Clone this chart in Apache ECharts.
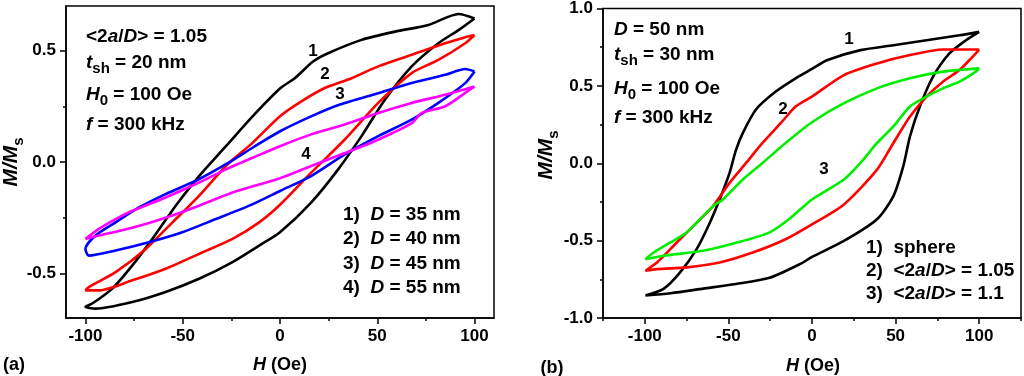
<!DOCTYPE html>
<html>
<head>
<meta charset="utf-8">
<script src="https://cdn.jsdelivr.net/npm/echarts@6/dist/echarts.min.js"></script>
<style>
  html, body { margin: 0; padding: 0; background: #fff; }
  #chart { width: 1024px; height: 376px; }
</style>
</head>
<body>
<div id="chart"></div>
<script>
// panel (a): loops start at +100 Oe, run the upper branch down to -100, then back along the lower branch
const loopA1 = [[100,0.644],[91.8,0.664],[76.3,0.615],[59.1,0.585],[41.9,0.548],[24.7,0.488],[17,0.451],[7.6,0.376],[0,0.33],[-14.1,0.205],[-27.8,0.071],[-41.6,-0.063],[-53.6,-0.196],[-65.6,-0.345],[-75.9,-0.464],[-86.2,-0.568],[-96.5,-0.635],[-100,-0.65],[-94.8,-0.658],[-75.9,-0.628],[-58.8,-0.583],[-41.6,-0.524],[-24.4,-0.449],[-10.7,-0.375],[0,-0.315],[16,-0.182],[29.9,-0.033],[41.9,0.116],[54,0.28],[67.7,0.429],[81.4,0.533],[91.8,0.592],[100,0.644]];
const loopA2 = [[100,0.57],[95.2,0.56],[84.9,0.533],[67.7,0.481],[50.5,0.429],[36.8,0.376],[23,0.332],[11,0.272],[0,0.205],[-14.1,0.086],[-27.8,-0.018],[-41.6,-0.152],[-55.3,-0.271],[-69,-0.39],[-84.5,-0.494],[-98.3,-0.561],[-100,-0.576],[-93.1,-0.576],[-75.9,-0.531],[-58.8,-0.479],[-41.6,-0.412],[-24.4,-0.345],[-10.7,-0.271],[0,-0.192],[16,-0.048],[33.3,0.101],[50.5,0.265],[67.7,0.399],[81.4,0.458],[95.2,0.533],[100,0.57]];
const loopA3 = [[100,0.406],[95.2,0.417],[84.9,0.391],[67.7,0.354],[50.5,0.309],[30.8,0.258],[16,0.205],[0,0.138],[-14.1,0.064],[-27.8,-0.01],[-41.6,-0.077],[-58.8,-0.144],[-72.5,-0.204],[-84.5,-0.271],[-94.8,-0.33],[-100,-0.39],[-98.3,-0.42],[-84.5,-0.397],[-67.4,-0.36],[-50.2,-0.315],[-33,-0.256],[-15.8,-0.196],[0,-0.13],[16,-0.063],[33.3,0.034],[50.5,0.116],[67.7,0.19],[81.4,0.265],[95.2,0.354],[100,0.406]];
const loopA4 = [[100,0.339],[84.9,0.302],[67.7,0.265],[50.5,0.22],[33.3,0.168],[16,0.124],[0,0.071],[-14.1,0.019],[-27.8,-0.033],[-41.6,-0.092],[-58.8,-0.159],[-75.9,-0.219],[-84.5,-0.256],[-93.1,-0.3],[-100,-0.345],[-93.1,-0.33],[-75.9,-0.295],[-58.8,-0.25],[-41.6,-0.196],[-24.4,-0.137],[0,-0.073],[16,-0.018],[33.3,0.04],[50.5,0.1],[67.7,0.174],[72.7,0.219],[84.9,0.25],[95.2,0.31],[100,0.339]];

// panel (b)
const loopB1 = [[100,0.849],[88.2,0.827],[68.5,0.795],[48.7,0.763],[29,0.731],[9.3,0.667],[0,0.61],[-9.8,0.549],[-21.7,0.463],[-33.5,0.347],[-41.4,0.195],[-45.4,0.088],[-49.3,-0.062],[-55.2,-0.233],[-61.1,-0.384],[-69,-0.555],[-78.9,-0.705],[-88.8,-0.812],[-99.6,-0.855],[-84.6,-0.84],[-65,-0.81],[-45.5,-0.78],[-25.4,-0.74],[-6,-0.645],[0,-0.605],[19.1,-0.502],[38.9,-0.362],[48.7,-0.212],[54.6,-0.019],[58.6,0.174],[64.5,0.367],[72.4,0.56],[82.2,0.71],[92.1,0.795],[100,0.849]];
const loopB2 = [[100,0.735],[78.3,0.735],[58.6,0.699],[38.9,0.645],[19.1,0.57],[0,0.431],[-9.8,0.367],[-17.8,0.27],[-29.6,0.131],[-39.4,0.002],[-49.3,-0.127],[-59.2,-0.277],[-69,-0.384],[-80.9,-0.512],[-92.7,-0.641],[-99.6,-0.695],[-92.7,-0.684],[-75,-0.673],[-55.2,-0.641],[-35.5,-0.577],[-15.8,-0.491],[0,-0.395],[19.1,-0.266],[38.9,-0.041],[48.7,0.131],[58.6,0.302],[68.5,0.431],[78.3,0.527],[88.2,0.602],[96,0.688],[100,0.735]];
const loopB3 = [[100,0.613],[78.3,0.592],[58.6,0.549],[38.9,0.484],[19.1,0.388],[0,0.265],[-15.8,0.131],[-29.6,0.002],[-41.4,-0.105],[-53.3,-0.234],[-59.2,-0.277],[-75,-0.448],[-84.8,-0.512],[-94.7,-0.577],[-99.6,-0.62],[-88.8,-0.598],[-65.1,-0.566],[-45.4,-0.514],[-25.6,-0.448],[-13.8,-0.362],[0,-0.234],[19.1,-0.105],[29,0.002],[38.9,0.131],[48.7,0.238],[58.6,0.367],[68.5,0.431],[78.3,0.484],[88.2,0.527],[98,0.592],[100,0.613]];

// ticks
const hTicksA = [-100, -50, 0, 50, 100];
const hMinorA = [-75, -25, 25, 75];
const mTicksA = [-0.5, 0, 0.5];
const mMinorA = [-0.25, 0.25];
const hTicksB = [-100, -50, 0, 50, 100];
const hMinorB = [-125, -75, -25, 25, 75, 125];
const mTicksB = [-1, -0.5, 0, 0.5, 1];
const mMinorB = [-0.75, -0.25, 0.25, 0.75];

const legendA = ['1)  {i|D} = 35 nm', '2)  {i|D} = 40 nm', '3)  {i|D} = 45 nm', '4)  {i|D} = 55 nm'];
const legendB = ['1)  sphere', '2)  <2{i|a}/{i|D}> = 1.05', '3)  <2{i|a}/{i|D}> = 1.1'];
const paramsA = ['<2{i|a}/{i|D}> = 1.05', '{i|t}{sub|sh} = 20 nm', '{i|H}{sub|0} = 100 Oe', '{i|f} = 300 kHz'];
const paramsB = ['{i|D} = 50 nm', '{i|t}{sub|sh} = 30 nm', '{i|H}{sub|0} = 100 Oe', '{i|f} = 300 kHz'];

const FONT = '"Liberation Sans", Arial, sans-serif';
const RICH = {
  i: { fontStyle: 'italic', fontWeight: 'bold', fontSize: 19, fontFamily: FONT },
  sub: { fontWeight: 'bold', fontSize: 15, fontFamily: FONT, verticalAlign: 'bottom', lineHeight: 15 },
  ih: { fontStyle: 'italic', fontWeight: 'bold', fontSize: 18, fontFamily: FONT },
  bi: { fontStyle: 'italic', fontWeight: 'bold', fontSize: 21, fontFamily: FONT },
  bsub: { fontWeight: 'bold', fontSize: 15, fontFamily: FONT, verticalAlign: 'bottom', lineHeight: 15 }
};

function text (x, y, str, extra) {
  return {
    type: 'text', x: x, y: y, silent: true,
    style: Object.assign({
      text: str, fontSize: 19, fontWeight: 'bold', fontFamily: FONT, fill: '#000',
      lineHeight: 27, align: 'left', verticalAlign: 'middle', rich: RICH
    }, extra || {})
  };
}

function mainAxis (grid, min, max, ticks, fmt, extra) {
  return Object.assign({
    type: 'value', gridIndex: grid, min: min, max: max,
    axisLine: { show: true, onZero: false, lineStyle: { color: '#000', width: 1.5 } },
    axisTick: { show: true, inside: false, length: 6, customValues: ticks, lineStyle: { color: '#000', width: 1.5 } },
    axisLabel: { show: true, customValues: ticks, formatter: fmt, fontSize: 17, fontWeight: 'bold', fontFamily: FONT, color: '#000', margin: 10 },
    splitLine: { show: false }
  }, extra);
}

function minorAxis (grid, min, max, ticks, extra) {
  return Object.assign({
    type: 'value', gridIndex: grid, min: min, max: max, offset: 0,
    axisLine: { show: false, onZero: false },
    axisTick: { show: true, inside: false, length: 3, customValues: ticks, lineStyle: { color: '#000', width: 1.5 } },
    axisLabel: { show: false },
    splitLine: { show: false }
  }, extra);
}

const fmtInt = v => String(v);
const fmtOne = v => v.toFixed(1);

function loop (data, color, xi, yi) {
  return {
    type: 'line', data: data, xAxisIndex: xi, yAxisIndex: yi,
    showSymbol: false, smooth: 0.25, silent: true, animation: false,
    lineStyle: { color: color, width: 2.6 }
  };
}

const graphics = [];
paramsA.forEach((s, i) => graphics.push(text(86, [37, 63, 95, 125][i], s)));
paramsB.forEach((s, i) => graphics.push(text(614, [30, 55, 89, 118][i], s)));
legendA.forEach((s, i) => graphics.push(text(343, 214.5 + i * 24.4, s)));
legendB.forEach((s, i) => graphics.push(text(866, 247.5 + i * 23, s)));
[['1', 313, 51], ['2', 325, 74], ['3', 340, 94], ['4', 306, 154],
 ['1', 849, 39], ['2', 783, 109], ['3', 824, 169]].forEach(l => {
  graphics.push(text(l[1], l[2], l[0], { fontSize: 17, align: 'center' }));
});
graphics.push(text(14, 365, '(a)', { align: 'center', fontSize: 18 }));
graphics.push(text(552, 368, '(b)', { align: 'center', fontSize: 18 }));
graphics.push(text(280, 365, '{ih|H} (Oe)', { align: 'center', fontSize: 18 }));
graphics.push(text(813, 366, '{ih|H} (Oe)', { align: 'center', fontSize: 18 }));
graphics.push(Object.assign(text(11, 162, '{bi|M/M}{bsub|s}', { align: 'center', fontSize: 21, lineHeight: 30 }), { rotation: Math.PI / 2 }));
graphics.push(Object.assign(text(546, 155, '{bi|M/M}{bsub|s}', { align: 'center', fontSize: 21, lineHeight: 30 }), { rotation: Math.PI / 2 }));

const chart = echarts.init(document.getElementById('chart'), null, { renderer: 'canvas' });
chart.setOption({
  animation: false,
  backgroundColor: '#fff',
  grid: [
    { left: 66, top: 6, width: 428, height: 312, show: true, borderColor: '#000', borderWidth: 1.5, backgroundColor: 'transparent' },
    { left: 603, top: 7, width: 418, height: 311, show: true, borderColor: '#000', borderWidth: 1.5, backgroundColor: 'transparent' }
  ],
  xAxis: [
    mainAxis(0, -110, 110, hTicksA, fmtInt, { position: 'bottom' }),
    minorAxis(0, -110, 110, hMinorA, { position: 'bottom' }),
    mainAxis(1, -125, 125, hTicksB, fmtInt, { position: 'bottom' }),
    minorAxis(1, -125, 125, hMinorB, { position: 'bottom' })
  ],
  yAxis: [
    mainAxis(0, -0.7, 0.7, mTicksA, fmtOne, { position: 'left' }),
    minorAxis(0, -0.7, 0.7, mMinorA, { position: 'left' }),
    mainAxis(1, -1, 1, mTicksB, fmtOne, { position: 'left' }),
    minorAxis(1, -1, 1, mMinorB, { position: 'left' })
  ],
  series: [
    loop(loopA1, '#000000', 0, 0),
    loop(loopA2, '#ff0000', 0, 0),
    loop(loopA3, '#0000ff', 0, 0),
    loop(loopA4, '#ff00ff', 0, 0),
    loop(loopB1, '#000000', 2, 2),
    loop(loopB2, '#ff0000', 2, 2),
    loop(loopB3, '#00ee00', 2, 2)
  ],
  graphic: graphics
});
</script>
</body>
</html>
